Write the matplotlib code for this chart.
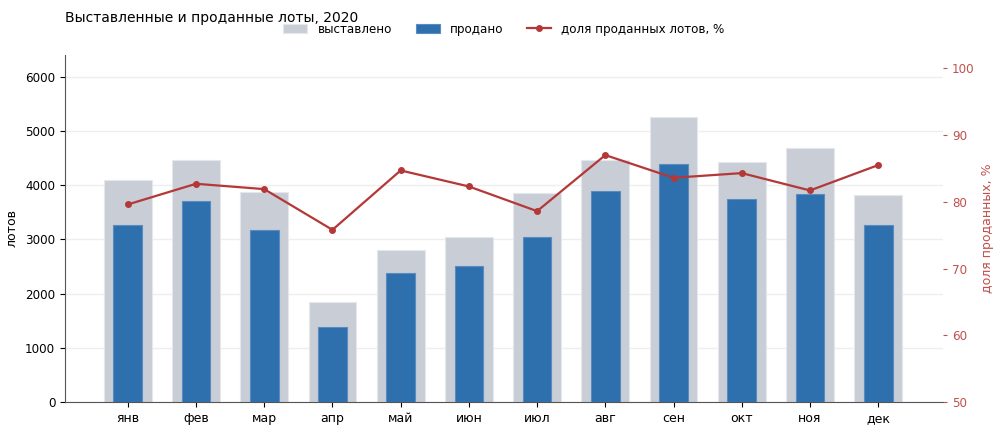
import matplotlib
matplotlib.use('Agg')
import matplotlib.pyplot as plt
import numpy as np

months = ['янв', 'фев', 'мар', 'апр', 'май', 'июн', 'июл', 'авг', 'сен', 'окт', 'ноя', 'дек']
listed = [4090, 4470, 3880, 1850, 2800, 3050, 3860, 4470, 5260, 4430, 4690, 3810]
sold = [3260, 3700, 3180, 1390, 2370, 2510, 3050, 3900, 4390, 3750, 3840, 3270]
share = [79.6, 82.7, 81.9, 75.8, 84.7, 82.3, 78.6, 87.0, 83.6, 84.3, 81.7, 85.5]

GRAY = '#c8cdd6'
BLUE = '#2e6fae'
RED = '#b43838'
RED_TXT = '#c0504d'
FS = 8.6

fig = plt.figure(figsize=(10, 4.33), dpi=100)
ax = fig.add_axes([0.065, 0.0716, 0.878, 0.8014])
x = np.arange(len(months))

b1 = ax.bar(x, listed, width=0.7, color=GRAY, edgecolor='#e4e7ec', linewidth=0.8,
            zorder=2, label='выставлено')
b2 = ax.bar(x, sold, width=0.42, color=BLUE, edgecolor='#5a8cc0', linewidth=0.8,
            zorder=3, label='продано')
ax.set_xlim(-0.92, 11.95)
ax.set_ylim(0, 6400)
ax.set_yticks(range(0, 7000, 1000))
ax.set_xticks(x)
ax.set_xticklabels(months, fontsize=FS + 0.4)
ax.tick_params(axis='y', labelsize=FS)
ax.set_ylabel('лотов', fontsize=FS + 0.4)
ax.yaxis.set_label_coords(-0.053, 0.5)
ax.grid(axis='y', color='#eeeeee', linewidth=1, zorder=0)
ax.set_axisbelow(True)
for s in ['top', 'right']:
    ax.spines[s].set_visible(False)
ax.spines['left'].set_color('#555555')
ax.spines['bottom'].set_color('#555555')

ax2 = ax.twinx()
l1, = ax2.plot(x, share, color=RED, marker='o', markersize=4, linewidth=1.6,
               label='доля проданных лотов, %', zorder=5)
ax2.set_ylim(50, 102)
ax2.set_yticks(range(50, 101, 10))
for s in ['top', 'right', 'left', 'bottom']:
    ax2.spines[s].set_visible(False)
ax2.tick_params(axis='y', colors=RED_TXT, labelsize=FS, length=3)
ax2.set_ylabel('доля проданных, %', color=RED_TXT, fontsize=FS + 0.4)
ax2.yaxis.set_label_coords(1.043, 0.5)

fig.text(0.065, 0.958, 'Выставленные и проданные лоты, 2020', fontsize=10, va='center')
fig.legend(handles=[b1, b2, l1], loc='center', bbox_to_anchor=(0.504, 0.933), ncol=3,
           frameon=False, fontsize=FS, handlelength=2, handletextpad=0.85,
           columnspacing=2.0)

fig.savefig('out.png', dpi=100)
